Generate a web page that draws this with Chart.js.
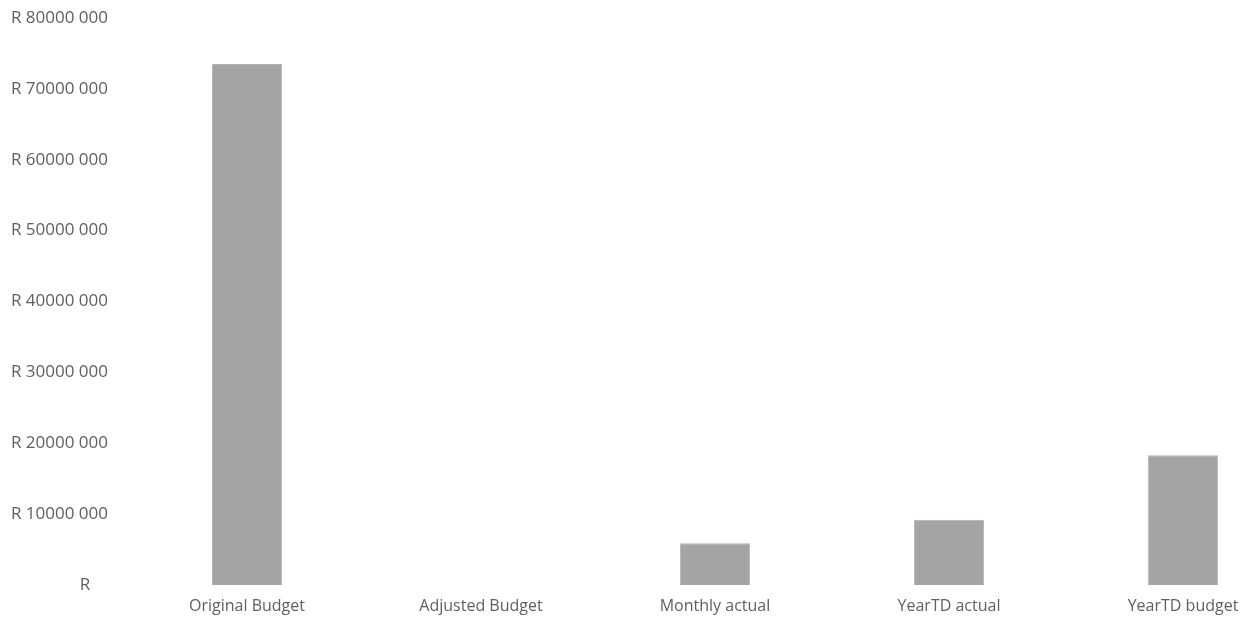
<!DOCTYPE html>
<html>
<head>
<meta charset="utf-8">
<script src="https://cdn.jsdelivr.net/npm/chart.js@4"></script>
<style>
  html, body { margin: 0; padding: 0; background: #fff; overflow: hidden; }
  #wrap { width: 1300px; height: 621px; }
</style>
</head>
<body>
<div id="wrap"><canvas id="budgetChart" width="1300" height="621"></canvas></div>
<script>
// chart data
const categories = ['Original Budget', 'Adjusted Budget', 'Monthly actual', 'YearTD actual', 'YearTD budget'];
const amounts = [73500000, 0, 5900000, 9200000, 18300000];
const tickValues = [0, 10000000, 20000000, 30000000, 40000000, 50000000, 60000000, 70000000, 80000000];
const tickLabels = ['R    ', 'R 10000 000', 'R 20000 000', 'R 30000 000', 'R 40000 000',
                    'R 50000 000', 'R 60000 000', 'R 70000 000', 'R 80000 000'];

const textColor = '#5f5f5f';
const fontFamily = '"Open Sans", sans-serif';

const ctx = document.getElementById('budgetChart').getContext('2d');
new Chart(ctx, {
    type: 'bar',
    data: {
        labels: categories,
        datasets: [{
            data: amounts,
            backgroundColor: '#a4a4a4',
            borderColor: '#b4b4b4',
            borderWidth: 1,
            barPercentage: 0.6,
            categoryPercentage: 0.5
        }]
    },
    options: {
        responsive: false,
        animation: false,
        layout: { padding: { top: 18, right: 0, bottom: 0, left: 0 } },
        plugins: { legend: { display: false }, tooltip: { enabled: false } },
        scales: {
            x: {
                grid: { display: false, drawTicks: false },
                border: { display: false },
                ticks: { color: textColor, font: { family: fontFamily, size: 16 }, padding: 12, maxRotation: 0 },
                afterFit: (scale) => { scale.height = 36; }
            },
            y: {
                min: 0,
                max: 80000000,
                grid: { display: false, drawTicks: false },
                border: { display: false },
                afterBuildTicks: (scale) => { scale.ticks = tickValues.map(v => ({ value: v })); },
                ticks: {
                    color: textColor,
                    font: { family: fontFamily, size: 17 },
                    padding: 22,
                    callback: (v) => tickLabels[tickValues.indexOf(v)]
                },
                afterFit: (scale) => {
                    scale.width = 130;
                    scale.paddingTop = 0;
                    scale.paddingBottom = 0;
                }
            }
        }
    }
});
</script>
</body>
</html>
